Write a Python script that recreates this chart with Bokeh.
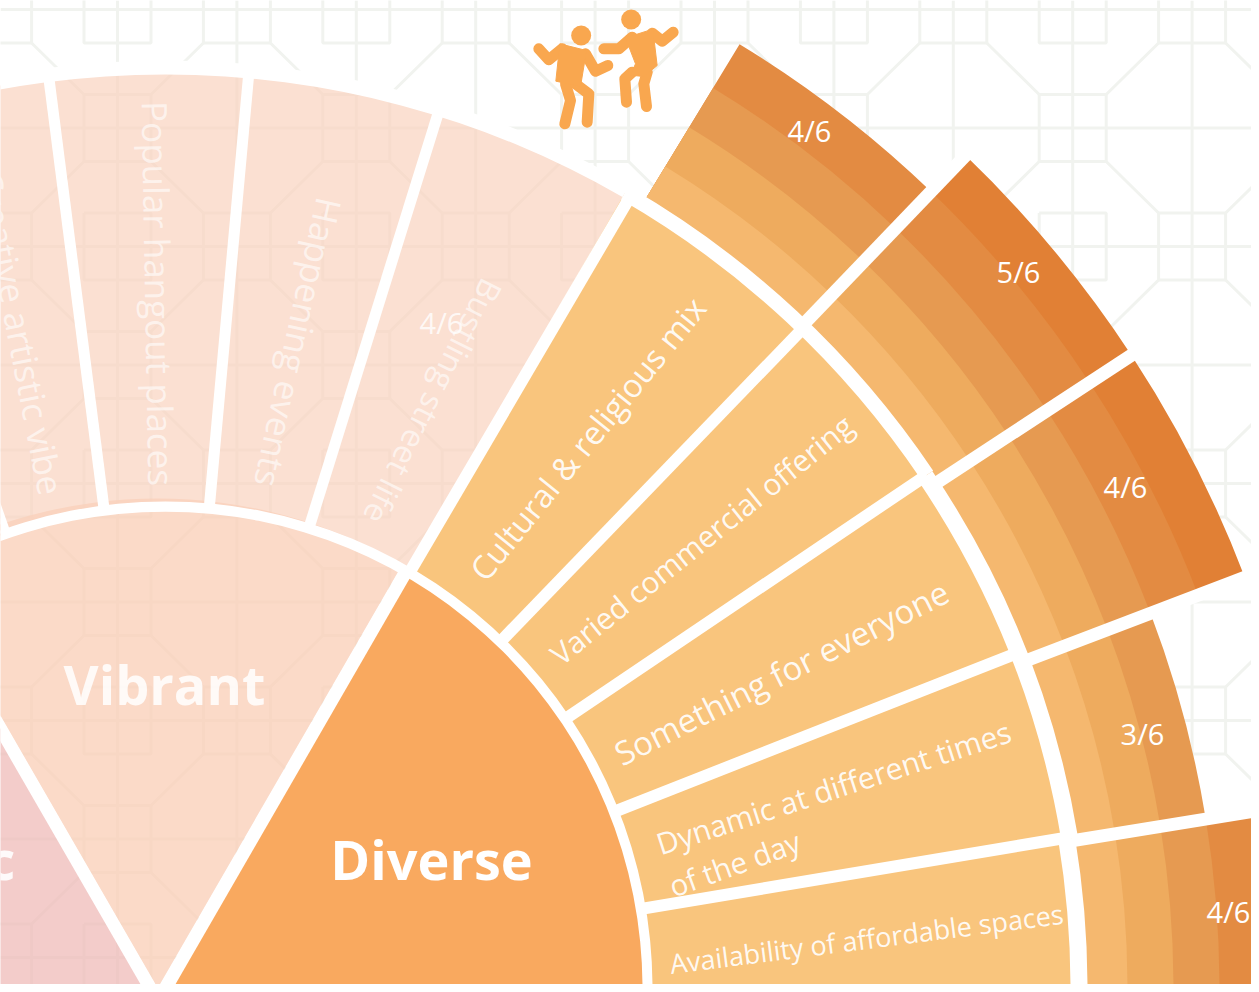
from math import radians, cos, sin
from bokeh.plotting import figure
from bokeh.models import Range1d
from bokeh.core.properties import value
from bokeh.embed import file_html
from bokeh.resources import INLINE

# ---- data -------------------------------------------------------------
pillars = ["Diverse", "Vibrant", "c"]
diverse_labels = ["Cultural & religious mix", "Varied commercial offering", "Something for everyone",
                  "Dynamic at different times", "of the day", "Availability of affordable spaces"]
vibrant_labels = ["Bustling street life", "Happening events", "Popular hangout places", "Creative artistic vibe"]
score_labels = ["4/6", "5/6", "4/6", "3/6", "4/6"]
band_counts = [4, 5, 5, 3, 4]
band_colors = ["#F5B86F", "#EEAB5E", "#E69A51", "#E38B42", "#E18035"]
band_radii = [925, 962, 1008, 1054, 1105, 1155]
ring_spokes = [59.6, 46, 34, 21.5, 9.5]
outer_edges = [(46.15, 58.7), (33.25, 46.15), (20.85, 33.25), (9.25, 20.85), (0, 9.25)]
vibrant_spokes = [72.7, 84.8, 97.3, 109.4]
ring_gaps = [(0, 9.4, 905, 922), (9.4, 34, 908, 925), (34, 60, 911, 926), (60, 180, 914, 928)]

CX, CY = 165, 988
def px(x, y):
    return x - CX, CY - y
def pol(r, deg):
    return r * cos(radians(deg)), r * sin(radians(deg))

p = figure(width=1251, height=984, x_range=Range1d(0 - CX, 1251 - CX), y_range=Range1d(CY - 984, CY),
           x_axis_type=None, y_axis_type=None, toolbar_location=None, output_backend="svg",
           min_border=0, outline_line_color=None)
p.grid.visible = False
p.background_fill_color = "#FFFFFF"

# ---- background lattice -------------------------------------------------
PX, PY, H = 119.4, 118.5, 33.5
LC = "#F1F3EF"
cols = [117 + PX * k for k in range(-1, 11)]
rows = [9 + PY * j for j in range(0, 9)]
xs, ys = [], []
for x in cols:
    a, b = px(x, 0), px(x, 992)
    xs.append([a[0], b[0]]); ys.append([a[1], b[1]])
for y in rows:
    a, b = px(0, y), px(1259, y)
    xs.append([a[0], b[0]]); ys.append([a[1], b[1]])
for i, x in enumerate(cols):
    k = i - 1
    for j, y in enumerate(rows):
        if k % 2 == 1 and j % 2 == 1:
            for sx, sy in [(-1, -1), (1, -1), (1, 1), (-1, 1)]:
                c1 = (x + sx * (PX - H), y + sy * H)
                c2 = (x + sx * H, y + sy * (PY - H))
                a, b = px(*c1), px(*c2)
                xs.append([a[0], b[0]]); ys.append([a[1], b[1]])
        else:
            c = [(x - H, y - H), (x + H, y - H), (x + H, y + H), (x - H, y + H), (x - H, y - H)]
            q = [px(*t) for t in c]
            xs.append([t[0] for t in q]); ys.append([t[1] for t in q])
p.multi_line(xs, ys, line_color=LC, line_width=3)

A = radians
# ---- inner pillars ------------------------------------------------------
p.wedge(-15, 0, radius=497, start_angle=A(120), end_angle=A(180), fill_color="#EFB9B6", fill_alpha=0.72, line_color=None)
p.wedge(-8, 0, radius=490, start_angle=A(60), end_angle=A(120), fill_color="#F9CEB6", fill_alpha=0.75, line_color=None)
p.wedge(0, 0, radius=482, start_angle=A(0), end_angle=A(60), fill_color="#F9A95F", line_color=None)

# ---- middle ring --------------------------------------------------------
p.annular_wedge(0, 0, inner_radius=482, outer_radius=918, start_angle=A(60), end_angle=A(120),
                fill_color="#F9D2BC", fill_alpha=0.68, line_color=None)
p.annular_wedge(0, 0, inner_radius=482, outer_radius=918, start_angle=A(0), end_angle=A(60),
                fill_color="#F9C57D", line_color=None)

# ---- outer score bands (outermost first, so no seams) -------------------
for n, (a0, a1) in zip(band_counts, outer_edges):
    for b in range(n - 1, -1, -1):
        p.annular_wedge(0, 0, inner_radius=band_radii[0] - 8, outer_radius=band_radii[b + 1],
                        start_angle=A(a0), end_angle=A(a1), fill_color=band_colors[b], line_color=None)

# ---- white separators ---------------------------------------------------
p.annular_wedge(0, 0, inner_radius=477, outer_radius=487, start_angle=A(0), end_angle=A(180),
                fill_color="#FFFFFF", line_color=None)
for a0, a1, r0, r1 in ring_gaps:
    p.annular_wedge(0, 0, inner_radius=r0, outer_radius=r1, start_angle=A(a0), end_angle=A(a1),
                    fill_color="#FFFFFF", line_color=None)

def spoke(deg, r0, r1, w, dx=0):
    a, b = pol(r0, deg), pol(r1, deg)
    p.line([a[0] + dx, b[0] + dx], [a[1], b[1]], line_color="#FFFFFF", line_width=w)

spoke(60, 0, 484, 13)
spoke(120, 0, 490, 13, dx=-15)
p.line([-200, 1150], [-1, -1], line_color="#FFFFFF", line_width=8)
for d in ring_spokes:
    spoke(d, 484, 918, 12)
for d in vibrant_spokes:
    spoke(d, 484, 918, 11)
outer_reach = [1165, 1165, 1165, 1104]
for (a0, _), r in zip(outer_edges[:4], outer_reach):
    spoke(a0, 918, r, 13)

# ---- texts --------------------------------------------------------------
def label(t, x, y, rot=0, size=30, alpha=1.0, style="normal", font="Open Sans"):
    X, Y = px(x, y)
    p.text([X], [Y], text=[t], angle=[rot], angle_units="deg", text_align="center", text_baseline="middle",
           text_color="#FFFFFF", text_alpha=alpha, text_font=value(font), text_font_size=f"{size}px",
           text_font_style=style)

label(pillars[0], 431, 858, size=54, style="bold")
label(pillars[1], 164, 683, size=54, style="bold", alpha=0.85)
label(pillars[2], 1, 858, size=54, style="bold", alpha=0.9)

div_pos = [(587, 438, 51, 32.5), (701, 539, 38.8, 30), (781, 672, 26.7, 33), (833, 787, 17.9, 30), (734, 863, 20, 29.5), (866, 938, 7.3, 27)]
for t, (x, y, r, s) in zip(diverse_labels, div_pos):
    label(t, x, y, r, s, alpha=0.92)

vib_pos = [(433, 401, -116.6, 32), (298, 342, -102.4, 35), (158, 293, -89, 35), (20, 332, -79, 35)]
for t, (x, y, r, s) in zip(vibrant_labels, vib_pos):
    label(t, x, y, r, s, alpha=0.6)

label("4/6", 441, 322, size=29, alpha=0.8)
score_pos = [(809, 130), (1018, 271), (1125, 486), (1142, 733), (1228, 911)]
for t, (x, y) in zip(score_labels, score_pos):
    label(t, x, y, size=29)

# ---- dancing figures ----------------------------------------------------
ICON = "#F9A74F"
def zpt(u, v):
    return px(520 + u / 3, v / 3)
strokes = [
    [(55, 145), (85, 178), (125, 145)], [(195, 160), (225, 212), (262, 195)],
    [(135, 250), (150, 300), (133, 370)], [(165, 250), (205, 280), (200, 365)],
    [(250, 145), (295, 145), (335, 110)], [(395, 98), (425, 122), (458, 95)],
    [(380, 215), (370, 250), (378, 318)], [(335, 215), (313, 235), (318, 305)],
]
sx, sy = [], []
for s in strokes:
    q = [zpt(*t) for t in s]
    sx.append([t[0] for t in q]); sy.append([t[1] for t in q])
p.multi_line(sx, sy, line_color=ICON, line_width=11, line_cap="round", line_join="round")
bodies = [
    [(118, 130), (198, 150), (180, 258), (106, 242)],
    [(315, 112), (397, 86), (410, 195), (370, 228), (330, 224), (345, 190)],
]
bx, by = [], []
for s in bodies:
    q = [zpt(*t) for t in s]
    bx.append([t[0] for t in q]); by.append([t[1] for t in q])
p.patches(bx, by, fill_color=ICON, line_color=ICON)
hx, hy = zip(*[zpt(182, 105), zpt(332, 57)])
p.circle(list(hx), list(hy), radius=10, fill_color=ICON, line_color=None)

open("out.html", "w").write(file_html(p, INLINE))
